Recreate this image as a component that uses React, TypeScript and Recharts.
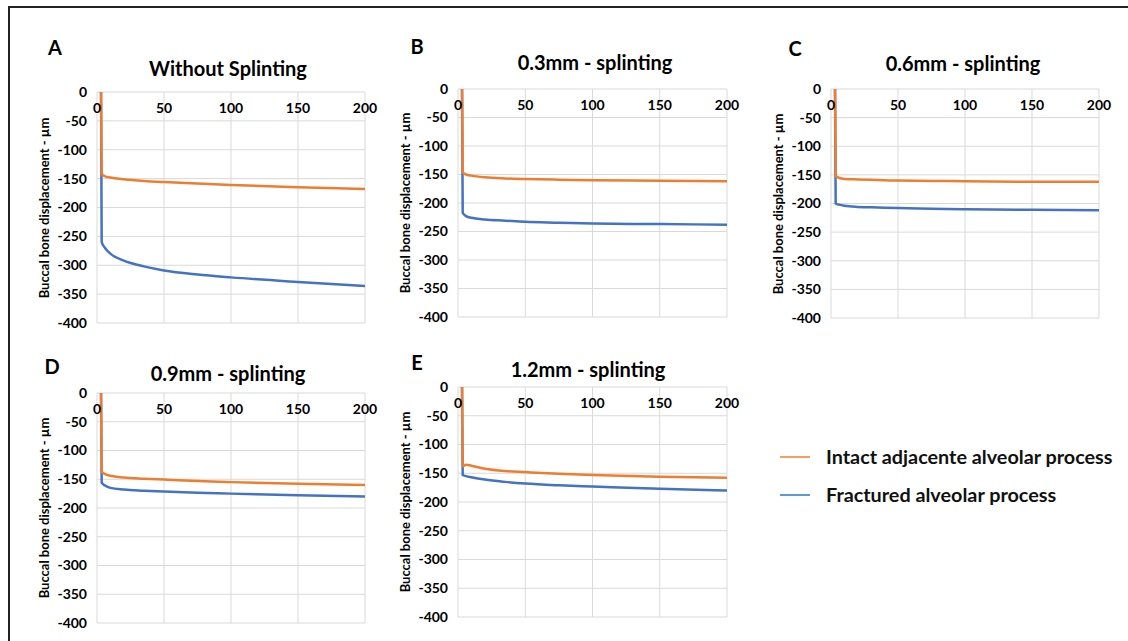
import React from 'react';
import { LineChart, Line, XAxis, YAxis, CartesianGrid } from 'recharts';

// distance (x) sample points shared by every series
const DIST = [3, 3.5, 6, 10, 20, 35, 50, 75, 100, 150, 200];
const X_TICKS = [0, 50, 100, 150, 200];
const Y_TICKS = [0, -50, -100, -150, -200, -250, -300, -350, -400];

const A_INTACT = [0, -142, -146, -148, -151, -154, -156, -158.5, -161, -165, -168];
const A_FRACT = [0, -260, -270, -280, -292, -302, -309, -316, -321, -329, -336];
const B_INTACT = [0, -146, -150, -152, -155, -157, -158, -159, -160, -161, -162];
const B_FRACT = [0, -217, -223, -226, -229, -231, -233, -234.5, -236, -237, -238];
const C_INTACT = [0, -152, -155, -157, -158, -159, -160, -160.5, -161, -162, -162];
const C_FRACT = [0, -200, -202, -204, -206, -207, -208, -209, -210, -211, -212];
const D_INTACT = [0, -137, -141, -144, -147, -149, -150.5, -153, -155, -158, -160];
const D_FRACT = [0, -156, -161, -165, -168, -170, -171.5, -173.5, -175, -178, -180];
const E_INTACT = [0, -138, -135, -137, -142, -146, -148, -151, -153, -156, -158];
const E_FRACT = [0, -153, -155, -157, -161, -165, -168, -171, -173, -177, -180];

const ORANGE = '#ED7D31';
const BLUE = '#4472C4';
const FONT = 'Lato, "Open Sans", sans-serif';

const toPoints = (ys: number[]) => DIST.map((x, i) => ({ x, y: ys[i] }));

interface PanelProps {
  letter: string;
  title: string;
  intact: number[];
  fract: number[];
  plotLeft: number;
  plotRight: number;
  plotTop: number;
  plotBottom: number;
  letterPos: [number, number];
  titlePos: [number, number];
}

const Panel: React.FC<PanelProps> = ({ letter, title, intact, fract, plotLeft, plotRight, plotTop, plotBottom, letterPos, titlePos }) => {
  const yAxisW = 60;
  const xAxisH = 20;
  const padRight = 15;
  const padBottom = 10;
  const w = plotRight - plotLeft + yAxisW + padRight;
  const h = plotBottom - plotTop + xAxisH + padBottom;
  const tickStyle = { fontSize: 14, fontWeight: 700, fill: '#000', fontFamily: FONT };
  return (
    <>
      <div style={{ position: 'absolute', left: letterPos[0] - 20, top: letterPos[1] - 13, width: 40, textAlign: 'center', fontFamily: FONT, fontWeight: 700, fontSize: 20, lineHeight: '26px' }}>{letter}</div>
      <div style={{ position: 'absolute', left: titlePos[0] - 150, top: titlePos[1] - 13, width: 300, textAlign: 'center', fontFamily: FONT, fontWeight: 700, fontSize: 20, lineHeight: '26px' }}>{title}</div>
      <div style={{ position: 'absolute', left: plotLeft - 53 - 130, top: (plotTop + plotBottom) / 2 - 9, width: 260, textAlign: 'center', fontFamily: FONT, fontWeight: 700, fontSize: 13, lineHeight: '18px', transform: 'rotate(-90deg)' }}>
        Buccal bone displacement - µm
      </div>
      <div style={{ position: 'absolute', left: plotLeft - yAxisW, top: plotTop - xAxisH }}>
        <LineChart width={w} height={h} margin={{ top: 0, right: padRight, bottom: padBottom, left: 0 }}>
          <CartesianGrid stroke="#D9D9D9" strokeWidth={1} />
          <XAxis
            type="number"
            dataKey="x"
            domain={[0, 200]}
            ticks={X_TICKS}
            orientation="top"
            height={xAxisH}
            axisLine={false}
            tickLine={false}
            tickSize={0}
            tickMargin={0}
            tick={{ ...tickStyle, dy: 21 }}
            interval={0}
            allowDataOverflow
          />
          <YAxis
            type="number"
            domain={[-400, 0]}
            ticks={Y_TICKS}
            width={yAxisW}
            axisLine={false}
            tickLine={false}
            tickMargin={4}
            tick={tickStyle}
            interval={0}
            allowDataOverflow
          />
          <Line data={toPoints(fract)} dataKey="y" type="monotone" stroke={BLUE} strokeWidth={2.5} dot={false} isAnimationActive={false} />
          <Line data={toPoints(intact)} dataKey="y" type="monotone" stroke={ORANGE} strokeWidth={2.5} dot={false} isAnimationActive={false} />
        </LineChart>
      </div>
    </>
  );
};

export default function App() {
  return (
    <div style={{ position: 'absolute', left: 0, top: 0, width: 1128, height: 641, background: '#fff', overflow: 'hidden' }}>
      {/* frame (top + left edges) */}
      <div style={{ position: 'absolute', left: 8, top: 6, right: 0, height: 1.5, background: '#222' }} />
      <div style={{ position: 'absolute', left: 8, top: 6, width: 1.5, bottom: 0, background: '#222' }} />

      <Panel letter="A" title="Without Splinting" intact={A_INTACT} fract={A_FRACT}
        plotLeft={97} plotRight={365} plotTop={92} plotBottom={323} letterPos={[55, 47]} titlePos={[228, 68]} />
      <Panel letter="B" title="0.3mm - splinting" intact={B_INTACT} fract={B_FRACT}
        plotLeft={458} plotRight={727} plotTop={89} plotBottom={317} letterPos={[417, 46]} titlePos={[595, 62]} />
      <Panel letter="C" title="0.6mm - splinting" intact={C_INTACT} fract={C_FRACT}
        plotLeft={831} plotRight={1099} plotTop={89} plotBottom={318} letterPos={[795, 48]} titlePos={[963, 63]} />
      <Panel letter="D" title="0.9mm - splinting" intact={D_INTACT} fract={D_FRACT}
        plotLeft={97} plotRight={365} plotTop={393} plotBottom={623} letterPos={[52, 366]} titlePos={[228, 373]} />
      <Panel letter="E" title="1.2mm - splinting" intact={E_INTACT} fract={E_FRACT}
        plotLeft={458} plotRight={727} plotTop={387} plotBottom={617} letterPos={[417, 362]} titlePos={[588, 369]} />

      {/* legend */}
      <div style={{ position: 'absolute', left: 780, top: 456, width: 30, height: 2, background: '#F4A061' }} />
      <div style={{ position: 'absolute', left: 826, top: 443, fontFamily: FONT, fontSize: 19.8, fontWeight: 700, lineHeight: '26px', color: '#111' }}>Intact adjacente alveolar process</div>
      <div style={{ position: 'absolute', left: 780, top: 494, width: 30, height: 2, background: '#5B9BD5' }} />
      <div style={{ position: 'absolute', left: 826, top: 481, fontFamily: FONT, fontSize: 19.8, fontWeight: 700, lineHeight: '26px', color: '#111' }}>Fractured alveolar process</div>
    </div>
  );
}
